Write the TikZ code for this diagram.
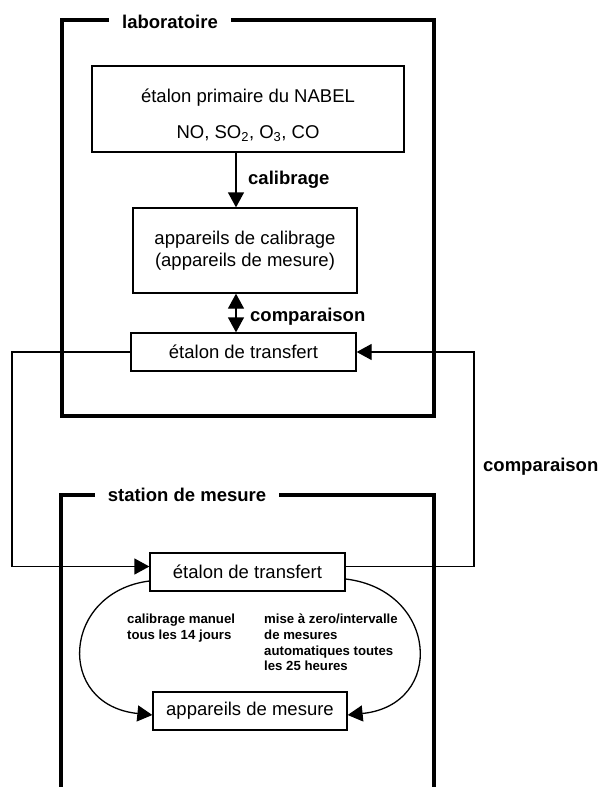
\documentclass[tikz,border=0pt]{standalone}
\usepackage{fontspec}
\setmainfont{Liberation Sans}
\usetikzlibrary{arrows.meta,calc}
\tikzset{
  box/.style={draw, line width=1.3pt, inner sep=0pt, font=\fontsize{18.5}{22.5}\selectfont},
  txt/.style={inner sep=0pt, font=\fontsize{18.5}{22.5}\selectfont},
  frame/.style={line width=3.5pt},
  title/.style={fill=white, inner xsep=13pt, font=\bfseries\fontsize{18.5}{22}\selectfont},
  lbl/.style={anchor=west, inner sep=0pt, font=\bfseries\fontsize{18.5}{22}\selectfont},
  note/.style={anchor=north west, align=left, inner sep=0pt, font=\bfseries\fontsize{13.2}{15.7}\selectfont},
  link/.style={line width=1.3pt},
  tip/.style={-{Triangle[length=15pt,width=16pt]}},
  twotip/.style={{Triangle[length=15pt,width=16pt]}-{Triangle[length=15pt,width=16pt]}}
}
\begin{document}
\begin{tikzpicture}[x=1pt,y=-1pt]
  \useasboundingbox (0,0) rectangle (601,787);
  % frames
  \draw[frame] (62,20) rectangle (434,416);
  \draw[frame] (61,787) -- (61,495) -- (434,495) -- (434,787);
  \node[title] (lab) at (170,22) {laboratoire};
  \node[title] (sta) at (187,495) {station de mesure};
  % laboratoire
  \node[box, minimum width=312pt, minimum height=86pt] (prim) at (248,109) {};
  \node[txt] (prima) at (248,98) {étalon primaire du NABEL};
  \node[txt] (primb) at (248,134) {NO, SO\textsubscript{2}, O\textsubscript{3}, CO};
  \node[box, align=center, minimum width=224pt, minimum height=85pt] (cal) at (245,250.5)
    {appareils de calibrage\\(appareils de mesure)};
  \node[box, minimum width=225pt, minimum height=38pt] (tr1) at (243.5,352) {étalon de transfert};
  % station de mesure
  \node[box, minimum width=195pt, minimum height=38pt] (tr2) at (247.5,572) {étalon de transfert};
  \node[box, minimum width=194pt, minimum height=38pt] (app) at (250,711) {appareils de mesure};
  \node[note] (manuel) at (127,614) {calibrage manuel\\tous les 14 jours};
  \node[note] (auto) at (264,614) {mise à zero/intervalle\\de mesures\\automatiques toutes\\les 25 heures};
  % labels
  \node[lbl] (calib) at (248,180) {calibrage};
  \node[lbl] (compa) at (250,317) {comparaison};
  \node[lbl] (compb) at (483,467) {comparaison};
  % connectors
  \coordinate (mid) at (236,0);
  \coordinate (left) at (12,0);
  \coordinate (right) at (474,0);
  \coordinate (ina) at ($(tr2.west)+(0,-5.5)$);
  \coordinate (outa) at ($(tr2.east)+(0,-5.5)$);
  \begin{scope}[link]
    \draw[tip] (prim.south -| mid) -- (cal.north -| mid);
    \draw[twotip] (cal.south -| mid) -- (tr1.north -| mid);
    \draw[tip] (tr1.west) -- (tr1.west -| left) |- (ina);
    \draw[tip] (outa) -- (outa -| right) |- (tr1.east);
    \draw[tip] ($(tr2.west)+(0,9)$) .. controls (62,592) and (55,705) .. ($(app.west)+(0,4)$);
    \draw[tip] ($(tr2.east)+(0,7)$) .. controls (438,590) and (446,705) .. ($(app.east)+(0,4)$);
  \end{scope}
\end{tikzpicture}
\end{document}
